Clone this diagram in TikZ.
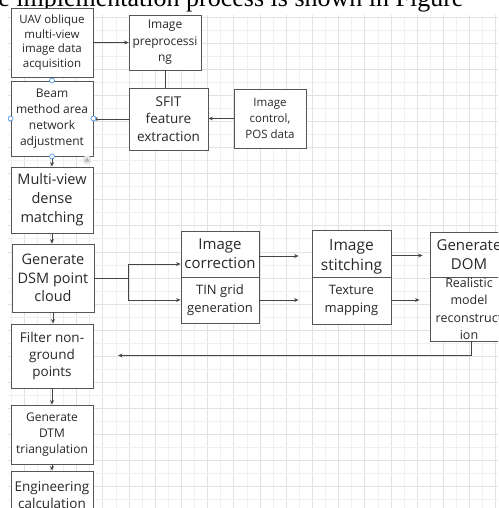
\documentclass[tikz,border=0pt]{standalone}
\usepackage{fontspec}
\usetikzlibrary{arrows.meta}
\newfontfamily\boxfont{Open Sans}
\newfontfamily\capfont{Liberation Serif}
\definecolor{boxc}{HTML}{555555}
\definecolor{txt}{HTML}{282828}
\definecolor{arrc}{HTML}{444444}
\definecolor{gmaj}{HTML}{E2E2E2}
\definecolor{gmin}{HTML}{F0F0F0}
\definecolor{handle}{HTML}{3C8CE6}
\tikzset{
  box/.style={draw=boxc, line width=0.8pt, fill=white, inner sep=0pt, align=center, text=txt},
  fs/.style n args={2}{font=\boxfont\fontsize{#1}{#2}\selectfont},
  arr/.style={draw=arrc, line width=0.8pt, -{Stealth[length=4.5pt,width=3.8pt]}},
  plain/.style={draw=arrc, line width=0.8pt},
  hdl/.style={circle, draw=handle, fill=white, line width=0.6pt, inner sep=0pt, minimum size=5pt}
}
\begin{document}
\begin{tikzpicture}[x=1pt,y=-1pt]
\clip (0,0) rectangle (498,508);
\fill[white] (0,0) rectangle (498,508);
% grid
\foreach \i in {0,...,18} {
  \draw[gmin, line width=0.6pt] ({11+26.2*\i},15) -- ({11+26.2*\i},508);
  \draw[gmaj, line width=0.6pt] ({24.1+26.2*\i},15) -- ({24.1+26.2*\i},508);
  \draw[gmaj, line width=0.6pt] (8,{16.9+26.1*\i}) -- (498,{16.9+26.1*\i});
  \draw[gmin, line width=0.6pt] (8,{29.95+26.1*\i}) -- (498,{29.95+26.1*\i});
}
% cut-off caption line (only its lower part shows)
\node[anchor=base west, font=\capfont\fontsize{26}{26}\selectfont, inner sep=0pt, text=black] (cap) at (-22,6.5) {the implementation process is shown in Figure};
% boxes
\node[box, fs={11.5}{14.5}, minimum width=82pt, minimum height=69pt] (uav) at (52,42.5) {UAV oblique\\multi-view\\image data\\acquisition};
\node[box, fs={12}{16.5}, minimum width=72pt, minimum height=55pt] (pre) at (165,42.5) {Image\\preprocessi\\ng};
\node[box, fs={12}{16}, minimum width=82pt, minimum height=75pt] (beam) at (52,118.5) {Beam\\method area\\network\\adjustment};
\node[box, fs={13.5}{17.5}, minimum width=79pt, minimum height=62pt] (sfit) at (168.5,119) {SFIT\\feature\\extraction};
\node[box, fs={11.5}{16}, minimum width=72pt, minimum height=59pt] (ctrl) at (270,118.5) {Image\\control,\\POS data};
\node[box, fs={14.5}{19}, minimum width=82pt, minimum height=66pt] (multi) at (52,200) {Multi-view\\dense\\matching};
\node[box, fs={14.5}{18.5}, minimum width=82pt, minimum height=68pt] (dsm) at (53,278) {Generate\\DSM point\\cloud};
\node[box, fs={15}{19}, minimum width=78pt, minimum height=46pt] (corr) at (220,254) {Image\\correction};
\node[box, fs={13}{18}, minimum width=78pt, minimum height=46pt] (tin) at (220,300) {TIN grid\\generation};
\node[box, fs={15.5}{20}, minimum width=79pt, minimum height=47pt, text depth=0pt] (stitch) at (351.5,253.5) {};
\node[fs={15.5}{20}, text=txt, align=center, inner sep=0pt] (stitchtxt) at (351.5,257) {Image\\stitching};
\node[box, fs={13}{18}, minimum width=79pt, minimum height=47pt] (tex) at (351.5,300.5) {Texture\\mapping};
\node[box, fs={15}{19}, minimum width=78pt, minimum height=45pt] (dom) at (469,254.5) {Generate\\DOM};
\node[box, fs={12.5}{17.5}, minimum width=78pt, minimum height=64pt] (real) at (469,309) {Realistic\\model\\reconstruct\\ion};
\node[box, fs={13.5}{17}, minimum width=82pt, minimum height=64pt] (filter) at (52,356) {Filter non-\\ground\\points};
\node[box, fs={12}{16}, minimum width=82pt, minimum height=59pt] (dtm) at (52,434.5) {Generate\\DTM\\triangulation};
\node[box, fs={13.5}{17}, minimum width=82pt, minimum height=49pt] (eng) at (52,495.5) {Engineering\\calculation};
\draw[boxc, line width=0.8pt] (stitch.south west) -- (stitch.south east);
% connectors
\draw[arr] (uav.east) -- (pre.west);
\draw[plain] (pre.south) -- (pre.south |- sfit.north);
\draw[arr] (ctrl.west) -- (ctrl.west -| sfit.east);
\draw[arr] (sfit.west) -- (sfit.west -| beam.east);
\draw[arr] (beam.south) -- (multi.north);
\draw[arr] (multi.south) -- (multi.south |- dsm.north);
\coordinate (split) at (128,278);
\draw[plain] (dsm.east) -- (split);
\draw[arr] (split) |- ([yshift=-10pt]corr.west);
\draw[arr] (split) |- (tin.west);
\draw[arr] ([yshift=-2pt]corr.east) -- ([xshift=-13pt,yshift=-2pt]stitch.west |- corr.east);
\draw[arr] (tin.east) -- ([xshift=-13pt]tex.west |- tin.east);
\draw[arr] ([yshift=-2pt]stitch.east) -- ([xshift=-7pt,yshift=-2pt]dom.west |- stitch.east);
\draw[arr] ([yshift=0.5pt]tex.east) -- ([xshift=-10pt,yshift=0.5pt]real.west |- tex.east);
\coordinate (fend) at (118,355.5);
\draw[arr] ([xshift=2pt]real.south) |- (fend);
\draw[arr] (dsm.south) -- (dsm.south |- filter.north);
\draw[arr] (filter.south) -- (dtm.north);
\draw[arr] (dtm.south) -- (eng.north);
% selection handles
\node[hdl] (h1) at (beam.north) {};
\node[hdl] (h2) at (beam.west) {};
\node[hdl] (h3) at (beam.east) {};
\node[hdl] (h4) at (beam.south) {};
\node[circle, fill=gray!18, inner sep=0pt, minimum size=9pt] (tri) at (87,160) {};
\fill[gray!60] ([yshift=2.5pt]tri.center) -- ([xshift=-2.5pt,yshift=-1.5pt]tri.center) -- ([xshift=2.5pt,yshift=-1.5pt]tri.center) -- cycle;
\end{tikzpicture}
\end{document}
